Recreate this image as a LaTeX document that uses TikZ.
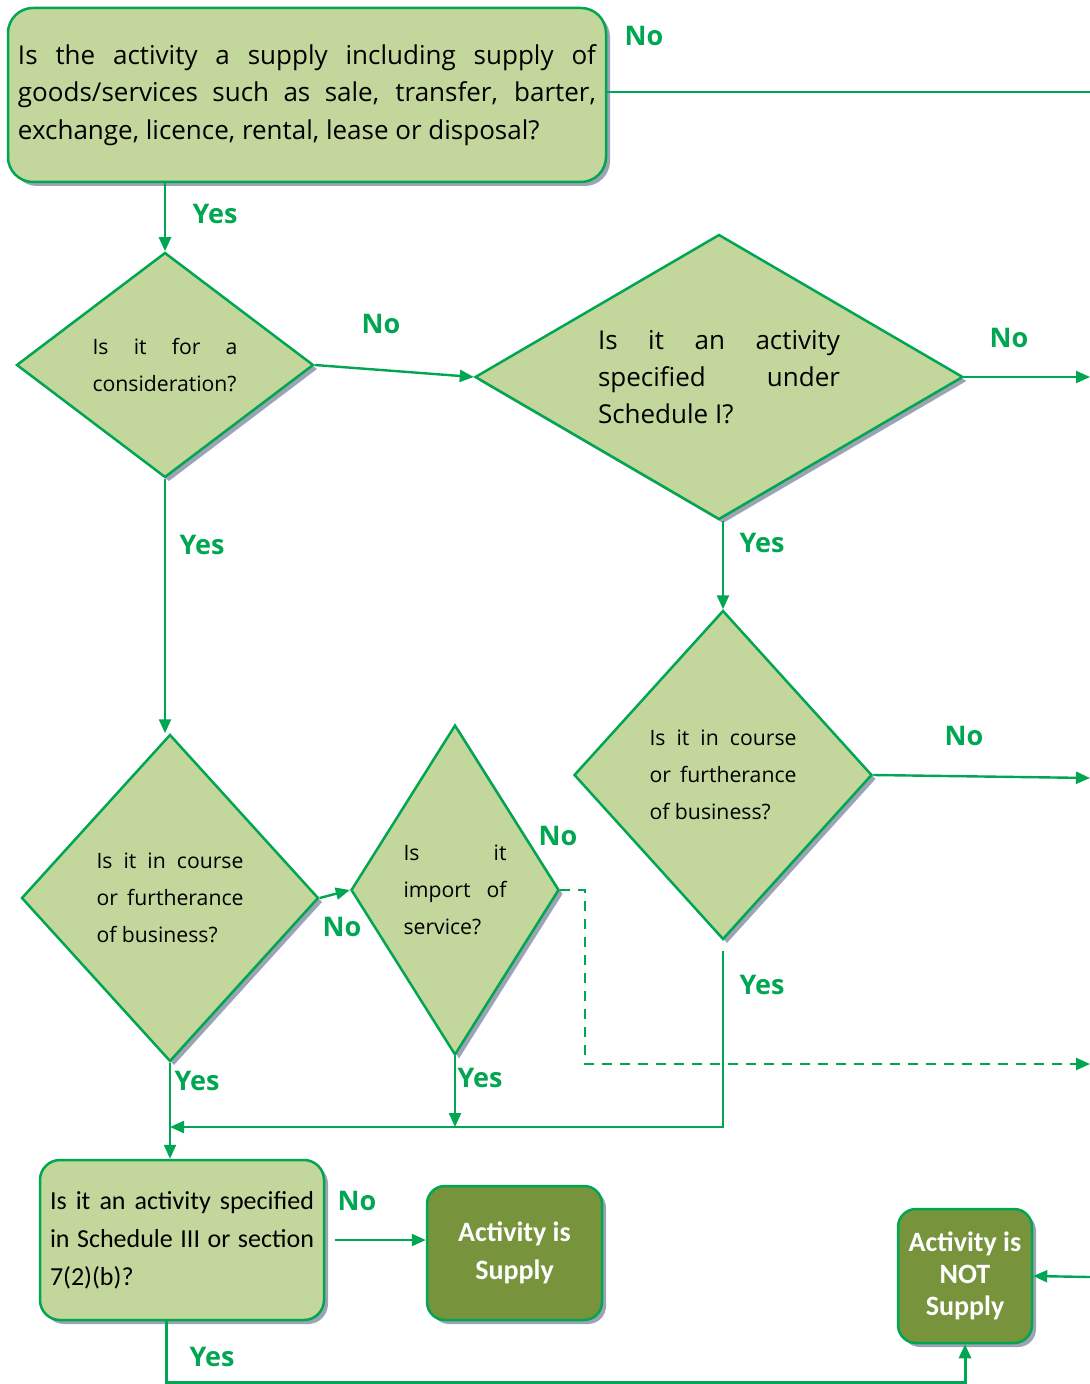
\documentclass[tikz,border=0pt]{standalone}
\usepackage{fontspec}
\setmainfont{Open Sans}
\newfontfamily\calfont{Carlito}
\usetikzlibrary{arrows.meta,shapes.geometric,shadows}
\definecolor{boxgreen}{HTML}{C3D69B}
\definecolor{linegreen}{HTML}{00A651}
\definecolor{darkgreen}{HTML}{77933C}
\definecolor{shadowgray}{HTML}{9CA3B4}

\begin{document}
\begin{tikzpicture}[x=0.5pt, y=-0.5pt, >={Triangle[length=7pt,width=6pt]},
  shade/.style={drop shadow={shadow xshift=2pt, shadow yshift=-2pt, fill=shadowgray, opacity=1}},
  qbox/.style={draw=linegreen, line width=1.25pt, fill=boxgreen, shade, align=justify, inner sep=0pt},
  qdiam/.style={diamond, draw=linegreen, line width=1.25pt, fill=boxgreen, shade, align=justify, inner sep=0pt,
    font=\fontsize{10.6}{18.5}\selectfont},
  result/.style={draw=linegreen, line width=1.25pt, fill=darkgreen, rounded corners=9pt, shade, text=white,
    align=center, inner sep=0pt, minimum width=87.5pt, minimum height=67pt},
  flow/.style={->, draw=linegreen, line width=1.2pt},
  ans/.style={text=linegreen, font=\bfseries\fontsize{13.5}{16}\selectfont, inner sep=0pt}]
  \useasboundingbox (0,0) rectangle (1090,1384);

  % questions
  \node[qbox, rounded corners=12.5pt, minimum width=299pt, minimum height=87pt, text width=289pt,
    font=\fontsize{13}{18.75}\selectfont] (supplyQ) at (307,95)
    {Is the activity a supply including supply of\linebreak goods/services such as sale, transfer, barter,\linebreak exchange, licence, rental, lease or disposal?};
  \node[qdiam, minimum width=148.5pt, minimum height=112.5pt, text width=72.5pt] (considQ) at (165,365)
    {Is it for a\linebreak consideration?};
  \node[qdiam, aspect=1.71, minimum width=244pt, minimum height=142.5pt, text width=121pt,
    font=\fontsize{13}{18.5}\selectfont] (schedQ) at (719,377)
    {Is it an activity\linebreak specified under\linebreak Schedule I?};
  \node[qdiam, minimum width=149pt, minimum height=164.5pt, text width=73.5pt] (courseR) at (723,775)
    {Is it in course\linebreak or furtherance\linebreak of business?};
  \node[qdiam, minimum width=148.5pt, minimum height=163.5pt, text width=73.5pt] (courseL) at (170,898)
    {Is it in course\linebreak or furtherance\linebreak of business?};
  \node[qdiam, minimum width=104pt, minimum height=165pt, text width=51.5pt] (importQ) at (455,890)
    {Is it\linebreak import of\linebreak service?};
  \node[qbox, rounded corners=10pt, minimum width=142pt, minimum height=80pt, text width=132pt,
    font=\calfont\fontsize{13}{19}\selectfont] (schedIIIQ) at (182,1240)
    {Is it an activity specified\linebreak in Schedule III or section\linebreak 7(2)(b)?};

  % results
  \node[result, font=\calfont\bfseries\fontsize{14}{19}\selectfont] (isSupply) at (514.5,1253)
    {Activity is\\Supply};
  \node[result, minimum width=67pt, font=\calfont\bfseries\fontsize{14}{16}\selectfont] (notSupply) at (965,1276)
    {Activity is\\NOT\\Supply};

  % free ends at the right edge
  \coordinate (edgeTop) at (1090,92);
  \coordinate (edgeSched) at (1090,377);
  \coordinate (edgeCourse) at (1090,778);
  \coordinate (edgeDash) at (1090,1064);
  \coordinate (edgeNot) at (1090,1277);
  \coordinate (dashTurn) at (585,1064);
  \coordinate (joinR) at (724,1127);
  \coordinate (bottomL) at (166,1382);

  % connectors
  \draw[flow] (supplyQ.south -| considQ.north) -- (considQ.north);
  \draw[flow, -] (supplyQ.east |- edgeTop) -- (edgeTop);
  \draw[flow] (considQ.east) -- (schedQ.west);
  \draw[flow] (considQ.south) -- (considQ.south |- courseL.north);
  \draw[flow] (schedQ.east) -- (edgeSched);
  \draw[flow] (courseR.north |- schedQ.south) -- (courseR.north);
  \draw[flow] (courseR.east) -- (edgeCourse);
  \draw[flow] ([yshift=-5pt]courseR.south) -- (courseR.south |- joinR) -- (joinR -| courseL.south);
  \draw[flow] (courseL.east) -- (importQ.west);
  \draw[flow, dash pattern=on 5pt off 4pt] (importQ.east) -- (importQ.east -| dashTurn) -- (dashTurn) -- (edgeDash);
  \draw[flow] (importQ.south) -- (importQ.south |- joinR);
  \draw[flow] (courseL.south) -- (courseL.south |- schedIIIQ.north);
  \draw[flow] ([xshift=5pt]schedIIIQ.east) -- (schedIIIQ.east -| isSupply.west);
  \draw[flow, line width=1.5pt] (bottomL |- schedIIIQ.south) -- (bottomL) -- (bottomL -| notSupply.south) -- (notSupply.south);
  \draw[flow] (edgeNot) -- (notSupply.east);

  % answers
  \node[ans] (noTop) at (644,36) {No};
  \node[ans] (yesTop) at (215,214) {Yes};
  \node[ans] (noConsid) at (381,324) {No};
  \node[ans] (yesConsid) at (202,545) {Yes};
  \node[ans] (noSched) at (1009,338) {No};
  \node[ans] (yesSched) at (762,543) {Yes};
  \node[ans] (noCourseR) at (964,736) {No};
  \node[ans] (yesCourseR) at (762,985) {Yes};
  \node[ans] (noImport) at (558,836) {No};
  \node[ans] (noCourseL) at (342,927) {No};
  \node[ans] (yesCourseL) at (197,1081) {Yes};
  \node[ans] (yesImport) at (480,1078) {Yes};
  \node[ans] (noSchedIII) at (357,1201) {No};
  \node[ans] (yesSchedIII) at (212,1357) {Yes};
\end{tikzpicture}
\end{document}
